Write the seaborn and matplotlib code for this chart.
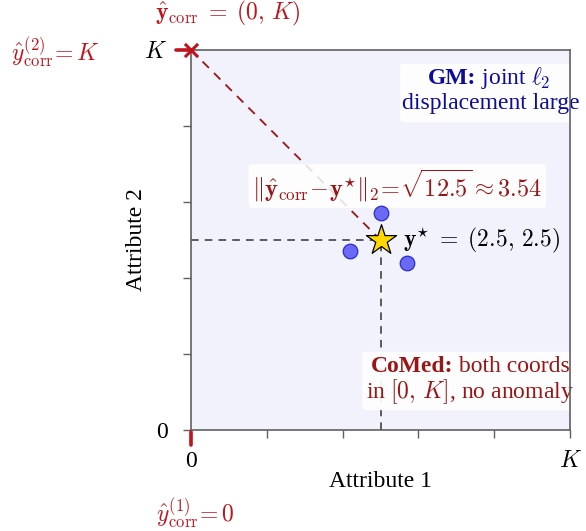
import matplotlib
matplotlib.use("Agg")
import matplotlib.pyplot as plt
from matplotlib.patches import FancyBboxPatch
import seaborn as sns
import pandas as pd

sns.set_theme(style="white")
plt.rcParams["font.family"] = ["Liberation Serif", "DejaVu Serif"]
plt.rcParams["mathtext.fontset"] = "cm"

# Scale and key points
K = 5.0
y_star = (2.5, 2.5)
y_corr = (0.0, K)
# honest gradients scattered around y*
cluster_x = [2.5, 2.1, 2.85]
cluster_y = [2.85, 2.35, 2.2]
tick_vals = [0, 1, 2, 3, 4, 5]
tick_labels = ["0", "", "", "", "", "$K$"]
dist_text = r"$\|\hat{\mathbf{y}}_{\mathrm{corr}}\!-\!\mathbf{y}^{\star}\|_2\!=\!\sqrt{12.5}\approx 3.54$"

RED = "#c0141c"
DARKRED = "#9a1515"
NAVY = "#0c0c9c"
FS = 17

fig = plt.figure(figsize=(5.86, 5.31), dpi=100)
ax = fig.add_axes([0.326, 0.1902, 0.6468, 0.7156])
ax.set_facecolor("#f2f2fd")
ax.set_xlim(0, K)
ax.set_ylim(0, K)

for s in ax.spines.values():
    s.set_color("#606060")
    s.set_linewidth(1.2)
    s.set_zorder(9)

ax.set_xticks(tick_vals)
ax.set_xticklabels(tick_labels)
ax.set_yticks(tick_vals)
ax.set_yticklabels(tick_labels)
ax.tick_params(axis="both", direction="out", length=6, width=1, color="#606060",
               labelsize=FS, labelcolor="black", bottom=True, left=True)
ax.tick_params(axis="x", pad=9)
ax.tick_params(axis="y", pad=11)

# guide lines to y*
ax.plot([0, y_star[0]], [y_star[1], y_star[1]], ls=(0, (5, 4)), color="#333333", lw=1.1, zorder=2)
ax.plot([y_star[0], y_star[0]], [0, y_star[1]], ls=(0, (5, 4)), color="#333333", lw=1.1, zorder=2)

# corrupted point and its distance to y*
ax.plot([y_corr[0], y_star[0]], [y_corr[1], y_star[1]], ls=(0, (5, 4)), color=DARKRED, lw=1.3, zorder=2)

df = pd.DataFrame({"a1": cluster_x, "a2": cluster_y})
sns.scatterplot(data=df, x="a1", y="a2", ax=ax, s=110, color="#6a6af4",
                edgecolor="#2a2ad0", linewidth=0.9, zorder=5)
ax.set_xlabel("Attribute 1", fontsize=FS, color="black")
ax.set_ylabel("Attribute 2", fontsize=FS, color="black")
ax.xaxis.set_label_coords(0.5, -0.108)
ax.yaxis.set_label_coords(-0.116, 0.5)

ax.scatter([y_star[0]], [y_star[1]], marker="*", s=520, color="#ffd800",
           edgecolor="black", linewidth=0.9, zorder=6)
ax.text(y_star[0] + 0.3, y_star[1], r"$\mathbf{y}^{\star}\;=\;(2.5,\,2.5)$", fontsize=FS,
        ha="left", va="center", color="black", zorder=7)

ax.scatter([y_corr[0]], [y_corr[1]], marker="x", s=90, color=RED, linewidth=2.2,
           zorder=10, clip_on=False)

# red marks on the axes
ax.plot([-0.2, 0], [K, K], color=RED, lw=2.6, clip_on=False, zorder=10)
ax.plot([0, 0], [-0.03, -0.2], color=RED, lw=2.6, clip_on=False, zorder=10)

ax.text(2.72, 3.21, dist_text, fontsize=17.5, color=DARKRED, ha="center", va="center",
        zorder=4, bbox=dict(boxstyle="round,pad=0.15", fc="white", ec="none", alpha=0.85))

# GM note
ax.add_patch(FancyBboxPatch((2.76, 4.05), 2.37, 0.77, boxstyle="round,pad=0,rounding_size=0.05",
                            fc="white", ec="none", alpha=0.92, zorder=4, clip_on=False))
ax.text(3.76, 4.63, "GM:", fontsize=FS, color=NAVY, ha="right", va="center",
        fontweight="bold", zorder=8)
ax.text(3.76, 4.63, " joint $\\ell_2$", fontsize=FS, color=NAVY, ha="left", va="center", zorder=8)
ax.text(3.95, 4.29, "displacement large", fontsize=FS, color=NAVY, ha="center", va="center", zorder=8)

# CoMed note
ax.add_patch(FancyBboxPatch((2.26, 0.26), 2.81, 0.77, boxstyle="round,pad=0,rounding_size=0.05",
                            fc="white", ec="none", alpha=0.92, zorder=4, clip_on=False))
ax.text(3.46, 0.84, "CoMed:", fontsize=FS, color=DARKRED, ha="right", va="center",
        fontweight="bold", zorder=8)
ax.text(3.46, 0.84, " both coords", fontsize=FS, color=DARKRED, ha="left", va="center", zorder=8)
ax.text(3.68, 0.51, "in $[0,\\,K]$, no anomaly", fontsize=FS, color=DARKRED, ha="center",
        va="center", zorder=8)

# annotations outside the axes
fig.text(228 / 586, 1 - 13 / 531, r"$\hat{\mathbf{y}}_{\mathrm{corr}}\;=\;(0,\,K)$", fontsize=FS,
         color=RED, ha="center", va="center")
fig.text(55 / 586, 1 - 52 / 531, r"$\hat{y}^{(2)}_{\mathrm{corr}}\!=K$", fontsize=FS,
         color=RED, ha="center", va="center")
fig.text(195 / 586, 1 - 513 / 531, r"$\hat{y}^{(1)}_{\mathrm{corr}}\!=0$", fontsize=FS,
         color=RED, ha="center", va="center")

fig.savefig("out.png", dpi=100)
